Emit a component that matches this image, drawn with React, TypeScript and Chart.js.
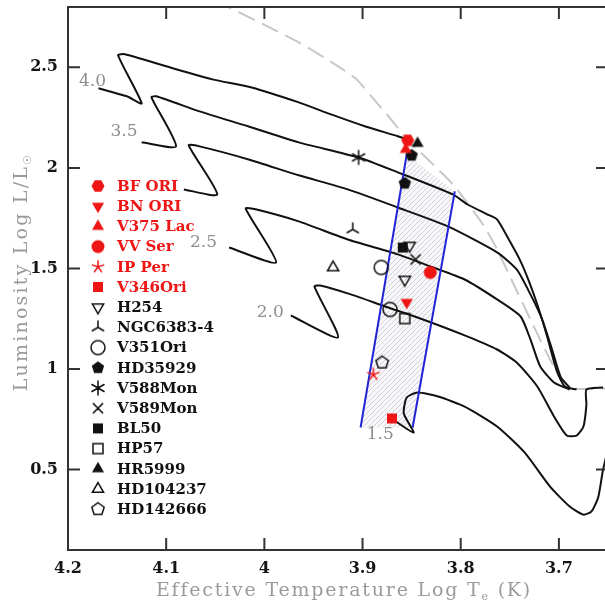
import React, { useEffect, useRef } from 'react';
import { Chart, registerables } from 'chart.js';

Chart.register(...registerables);

// ---------- axes ----------
const xTicks = [4.2, 4.1, 4.0, 3.9, 3.8, 3.7];
const yTicks = [0.5, 1, 1.5, 2, 2.5];
const xMin = 3.65;
const xMax = 4.2;
const yMin = 0.1;
const yMax = 2.8;

// ---------- evolutionary tracks (log Te, log L) ----------
const track40T = [4.169, 4.140, 4.125, 4.149, 4.142, 4.100, 4.053, 4.013, 3.965, 3.932, 3.897, 3.864, 3.852];
const track40L = [2.396, 2.356, 2.321, 2.560, 2.565, 2.505, 2.440, 2.400, 2.326, 2.266, 2.206, 2.157, 2.137];

const track35T = [4.125, 4.090, 4.115, 4.110, 4.066, 4.016, 3.965, 3.904, 3.864, 3.808, 3.793, 3.773, 3.763, 3.751, 3.740, 3.730, 3.721, 3.712, 3.702, 3.694, 3.682];
const track35L = [2.127, 2.107, 2.351, 2.356, 2.281, 2.206, 2.127, 2.052, 1.978, 1.868, 1.818, 1.769, 1.744, 1.644, 1.545, 1.430, 1.306, 1.162, 0.988, 0.913, 0.898];

const track30T = [4.082, 4.048, 4.077, 4.066, 4.016, 3.965, 3.915, 3.864, 3.813, 3.763, 3.743, 3.729, 3.717, 3.707, 3.698, 3.689];
const track30L = [1.893, 1.868, 2.112, 2.107, 2.042, 1.963, 1.893, 1.803, 1.709, 1.580, 1.495, 1.371, 1.246, 1.097, 0.958, 0.908];

const track25T = [4.036, 3.988, 4.019, 4.009, 3.965, 3.915, 3.864, 3.831, 3.796, 3.763, 3.739, 3.729, 3.719, 3.705, 3.689];
const track25L = [1.604, 1.530, 1.798, 1.794, 1.734, 1.644, 1.570, 1.510, 1.445, 1.346, 1.261, 1.147, 1.012, 0.933, 0.898];

const track20T = [3.973, 3.925, 3.949, 3.943, 3.912, 3.877, 3.844, 3.796, 3.763, 3.743, 3.722, 3.705, 3.692, 3.682, 3.675, 3.672, 3.672, 3.655];
const track20L = [1.266, 1.157, 1.410, 1.415, 1.371, 1.311, 1.256, 1.167, 1.097, 1.032, 0.913, 0.764, 0.669, 0.669, 0.714, 0.823, 0.898, 0.908];

const track15T = [3.872, 3.848, 3.858, 3.855, 3.844, 3.823, 3.796, 3.763, 3.735, 3.709, 3.689, 3.675, 3.667, 3.660, 3.655, 3.645];
const track15L = [0.759, 0.684, 0.779, 0.858, 0.883, 0.863, 0.813, 0.714, 0.585, 0.415, 0.316, 0.276, 0.291, 0.361, 0.500, 0.700];

const trackT = [track40T, track35T, track30T, track25T, track20T, track15T];
const trackL = [track40L, track35L, track30L, track25L, track20L, track15L];

const trackLabels = ['4.0', '3.5', '2.5', '2.0', '1.5'];
const trackLabelT = [4.175, 4.143, 4.062, 3.994, 3.882];
const trackLabelL = [2.430, 2.182, 1.629, 1.281, 0.674];

// ---------- birthline (dashed) ----------
const birthT = [4.050, 4.038, 4.001, 3.965, 3.928, 3.906, 3.891, 3.871, 3.854, 3.841, 3.823, 3.806, 3.796, 3.776, 3.763, 3.746, 3.729, 3.709, 3.695, 3.687, 3.650];
const birthL = [2.832, 2.803, 2.714, 2.624, 2.515, 2.440, 2.356, 2.241, 2.137, 2.077, 1.993, 1.908, 1.843, 1.709, 1.595, 1.420, 1.246, 1.047, 0.933, 0.903, 0.903];

// ---------- instability strip (corners) ----------
const stripT = [3.902, 3.855, 3.806, 3.849];
const stripL = [0.709, 2.067, 1.883, 0.709];

// ---------- stars ----------
const starNames = ['BF ORI', 'BN ORI', 'V375 Lac', 'VV Ser', 'IP Per', 'V346Ori', 'H254', 'NGC6383-4', 'V351Ori', 'HD35929', 'V588Mon', 'V589Mon', 'BL50', 'HP57', 'HR5999', 'HD104237', 'HD142666'];
const starColors = ['#ee1515', '#ee1515', '#ee1515', '#ee1515', '#ee1515', '#ee1515', '#111', '#111', '#111', '#111', '#111', '#111', '#111', '#111', '#111', '#111', '#111'];
const starMarkers = ['hexF', 'triDF', 'triF', 'circF', 'star5', 'sqF', 'triDO', 'tripod', 'circO', 'pentF', 'star6', 'cross', 'sqF', 'sqO', 'triF', 'triO', 'pentO'];
const starT = [[3.854], [3.855], [3.856], [3.831], [3.889], [3.870], [3.852, 3.857], [3.910], [3.881, 3.872], [3.850, 3.857], [3.904], [3.846], [3.859], [3.857], [3.844], [3.930], [3.880]];
const starL = [[2.137], [1.331], [2.092], [1.480], [0.973], [0.754], [1.614, 1.445], [1.694], [1.505, 1.296], [2.062, 1.923], [2.052], [1.545], [1.604], [1.251], [2.122], [1.505], [1.032]];

function makeMarker(kind: string, color: string): HTMLCanvasElement {
  const S = 18;
  const c = document.createElement('canvas');
  c.width = S;
  c.height = S;
  const g = c.getContext('2d')!;
  const m = S / 2;
  g.fillStyle = color;
  g.strokeStyle = color;
  g.lineWidth = 1.5;
  g.lineCap = 'round';
  const up = -Math.PI / 2;
  const poly = (n: number, r: number, a0: number) => {
    g.beginPath();
    for (let i = 0; i < n; i++) {
      const a = a0 + (i * 2 * Math.PI) / n;
      const px = m + r * Math.cos(a);
      const py = m + r * Math.sin(a);
      if (i) g.lineTo(px, py);
      else g.moveTo(px, py);
    }
    g.closePath();
  };
  const spokes = (n: number, r: number, a0: number) => {
    g.beginPath();
    for (let i = 0; i < n; i++) {
      const a = a0 + (i * 2 * Math.PI) / n;
      g.moveTo(m, m);
      g.lineTo(m + r * Math.cos(a), m + r * Math.sin(a));
    }
    g.stroke();
  };
  switch (kind) {
    case 'hexF': poly(6, 6.5, 0); g.fill(); break;
    case 'triF': poly(3, 7, up); g.fill(); break;
    case 'triDF': poly(3, 7, Math.PI / 2); g.fill(); break;
    case 'triO': poly(3, 6.5, up); g.stroke(); break;
    case 'triDO': poly(3, 6.5, Math.PI / 2); g.stroke(); break;
    case 'circF': g.beginPath(); g.arc(m, m, 6.5, 0, 2 * Math.PI); g.fill(); break;
    case 'circO': g.beginPath(); g.arc(m, m, 7, 0, 2 * Math.PI); g.stroke(); break;
    case 'sqF': g.fillRect(m - 5, m - 5, 10, 10); break;
    case 'sqO': g.strokeRect(m - 5, m - 5, 10, 10); break;
    case 'pentF': poly(5, 6.5, up); g.fill(); break;
    case 'pentO': poly(5, 6.5, up); g.stroke(); break;
    case 'star5': spokes(5, 6, up); break;
    case 'star6': spokes(6, 7, up); break;
    case 'cross': spokes(4, 6.5, Math.PI / 4); break;
    case 'tripod': spokes(3, 6.5, up); break;
  }
  return c;
}

function makeHatch(ctx: CanvasRenderingContext2D): CanvasPattern | string {
  const pc = document.createElement('canvas');
  pc.width = 5;
  pc.height = 5;
  const g = pc.getContext('2d')!;
  g.fillStyle = '#f8f8fa';
  g.fillRect(0, 0, 5, 5);
  g.strokeStyle = '#c6c6cf';
  g.lineWidth = 0.8;
  g.beginPath();
  g.moveTo(-1, 6); g.lineTo(6, -1);
  g.stroke();
  return ctx.createPattern(pc, 'repeat') || '#ececf0';
}

export default function App() {
  const ref = useRef<HTMLCanvasElement>(null);

  useEffect(() => {
    if (!ref.current) return;
    const markers = starMarkers.map((k, i) => makeMarker(k, starColors[i]));
    const datasets: any[] = [];

    starNames.forEach((name, i) => {
      datasets.push({
        label: name,
        data: starT[i].map((t, j) => ({ x: t, y: starL[i][j] })),
        pointStyle: markers[i],
        pointRadius: 6,
        showLine: false,
      });
    });

    const blue = '#1f24d6';
    datasets.push({
      label: 'strip-left',
      data: [0, 1].map((k) => ({ x: stripT[k], y: stripL[k] })),
      showLine: true, pointRadius: 0, borderColor: blue, borderWidth: 2, fill: false,
    });
    datasets.push({
      label: 'strip-right',
      data: [3, 2].map((k) => ({ x: stripT[k], y: stripL[k] })),
      showLine: true, pointRadius: 0, borderColor: blue, borderWidth: 2, fill: false,
    });

    trackT.forEach((ts, i) => {
      datasets.push({
        label: 'track ' + i,
        data: ts.map((t, j) => ({ x: t, y: trackL[i][j] })),
        showLine: true, pointRadius: 0, borderColor: '#111', borderWidth: 2, tension: 0.2, fill: false,
      });
    });

    datasets.push({
      label: 'birthline',
      data: birthT.map((t, j) => ({ x: t, y: birthL[j] })),
      showLine: true, pointRadius: 0, borderColor: '#c8c8c8', borderWidth: 2, borderDash: [18, 8], tension: 0.2, fill: false,
    });

    const serif = '"DejaVu Serif", serif';

    const overlay = {
      id: 'overlay',
      beforeDatasetsDraw(chart: any) {
        const { ctx, chartArea } = chart;
        const xs = chart.scales.x;
        const ys = chart.scales.y;
        ctx.save();
        ctx.beginPath();
        ctx.rect(chartArea.left, chartArea.top, chartArea.right - chartArea.left, chartArea.bottom - chartArea.top);
        ctx.clip();
        ctx.beginPath();
        stripT.forEach((t, k) => {
          const px = xs.getPixelForValue(t);
          const py = ys.getPixelForValue(stripL[k]);
          if (k) ctx.lineTo(px, py);
          else ctx.moveTo(px, py);
        });
        ctx.closePath();
        ctx.fillStyle = makeHatch(ctx);
        ctx.fill();
        ctx.restore();
      },
      afterDraw(chart: any) {
        const { ctx, chartArea } = chart;
        const xs = chart.scales.x;
        const ys = chart.scales.y;
        const { left, right, top, bottom } = chartArea;
        ctx.save();
        // frame
        ctx.strokeStyle = '#333';
        ctx.lineWidth = 2;
        ctx.strokeRect(left, top, right - left, bottom - top);
        // inward ticks
        ctx.beginPath();
        xTicks.forEach((v) => {
          const px = xs.getPixelForValue(v);
          ctx.moveTo(px, bottom); ctx.lineTo(px, bottom - 12);
          ctx.moveTo(px, top); ctx.lineTo(px, top + 12);
        });
        yTicks.forEach((v) => {
          const py = ys.getPixelForValue(v);
          ctx.moveTo(left, py); ctx.lineTo(left + 12, py);
          ctx.moveTo(right, py); ctx.lineTo(right - 12, py);
        });
        ctx.stroke();

        // track labels
        ctx.fillStyle = '#8e8e8e';
        ctx.font = '17px ' + serif;
        ctx.textAlign = 'center';
        ctx.textBaseline = 'middle';
        trackLabels.forEach((s, i) => {
          ctx.fillText(s, xs.getPixelForValue(trackLabelT[i]), ys.getPixelForValue(trackLabelL[i]));
        });

        // legend
        ctx.textAlign = 'left';
        ctx.font = 'bold 15px ' + serif;
        starNames.forEach((name, i) => {
          const cy = 186 + i * 20.2;
          const mk = markers[i];
          ctx.drawImage(mk, 98 - mk.width / 2, cy - mk.height / 2);
          ctx.fillStyle = starColors[i];
          ctx.fillText(name, 117, cy + 1);
        });

        // axis titles
        ctx.fillStyle = '#9a9a9a';
        ctx.textBaseline = 'alphabetic';
        (ctx as any).letterSpacing = '1.8px';
        const mainFont = '19px ' + serif;
        const subFont = '11px ' + serif;
        const p1 = 'Effective Temperature Log T';
        const p2 = 'e';
        const p3 = ' (K)';
        ctx.font = mainFont;
        const w1 = ctx.measureText(p1).width;
        const w3 = ctx.measureText(p3).width;
        ctx.font = subFont;
        const w2 = ctx.measureText(p2).width;
        const x0 = 344 - (w1 + w2 + w3) / 2;
        const by = 596;
        ctx.font = mainFont;
        ctx.fillText(p1, x0, by);
        ctx.font = subFont;
        ctx.fillText(p2, x0 + w1, by + 4);
        ctx.font = mainFont;
        ctx.fillText(p3, x0 + w1 + w2, by);

        (ctx as any).letterSpacing = '2.2px';
        const q1 = 'Luminosity Log L/L';
        const q2 = '\u2609';
        ctx.font = mainFont;
        const v1 = ctx.measureText(q1).width;
        ctx.font = subFont;
        const v2 = ctx.measureText(q2).width;
        ctx.translate(27, 272);
        ctx.rotate(-Math.PI / 2);
        const s0 = -(v1 + v2) / 2;
        ctx.font = mainFont;
        ctx.fillText(q1, s0, 0);
        ctx.font = subFont;
        ctx.fillText(q2, s0 + v1, 4);
        ctx.restore();
      },
    };

    const tickFont = { family: 'DejaVu Serif', weight: 'bold' as const, size: 16 };

    const chart = new Chart(ref.current, {
      type: 'scatter',
      data: { datasets },
      options: {
        animation: false,
        responsive: false,
        maintainAspectRatio: false,
        layout: { padding: { top: 7, right: 4, left: 0, bottom: 0 } },
        plugins: { legend: { display: false }, tooltip: { enabled: false } },
        scales: {
          x: {
            type: 'linear',
            reverse: true,
            min: xMin,
            max: xMax,
            afterFit: (s: any) => { s.height = 59; s.paddingLeft = 0; s.paddingRight = 0; },
            afterBuildTicks: (s: any) => { s.ticks = xTicks.map((v) => ({ value: v })); },
            grid: { display: false, drawTicks: false },
            border: { display: false },
            ticks: { padding: 9, font: tickFont, color: '#151515', maxRotation: 0, autoSkip: false, callback: (v: any) => String(v) },
          },
          y: {
            type: 'linear',
            min: yMin,
            max: yMax,
            afterFit: (s: any) => { s.width = 68; s.paddingTop = 0; s.paddingBottom = 0; },
            afterBuildTicks: (s: any) => { s.ticks = yTicks.map((v) => ({ value: v })); },
            grid: { display: false, drawTicks: false },
            border: { display: false },
            ticks: { padding: 10, font: tickFont, color: '#151515', autoSkip: false, callback: (v: any) => String(v) },
          },
        },
      },
      plugins: [overlay],
    });
    return () => chart.destroy();
  }, []);

  return (
    <div style={{ position: 'fixed', left: 0, top: 0, width: 605, height: 609, overflow: 'hidden', background: '#fff' }}>
      <canvas ref={ref} width={615} height={609} style={{ display: 'block', width: 615, height: 609 }} />
    </div>
  );
}
